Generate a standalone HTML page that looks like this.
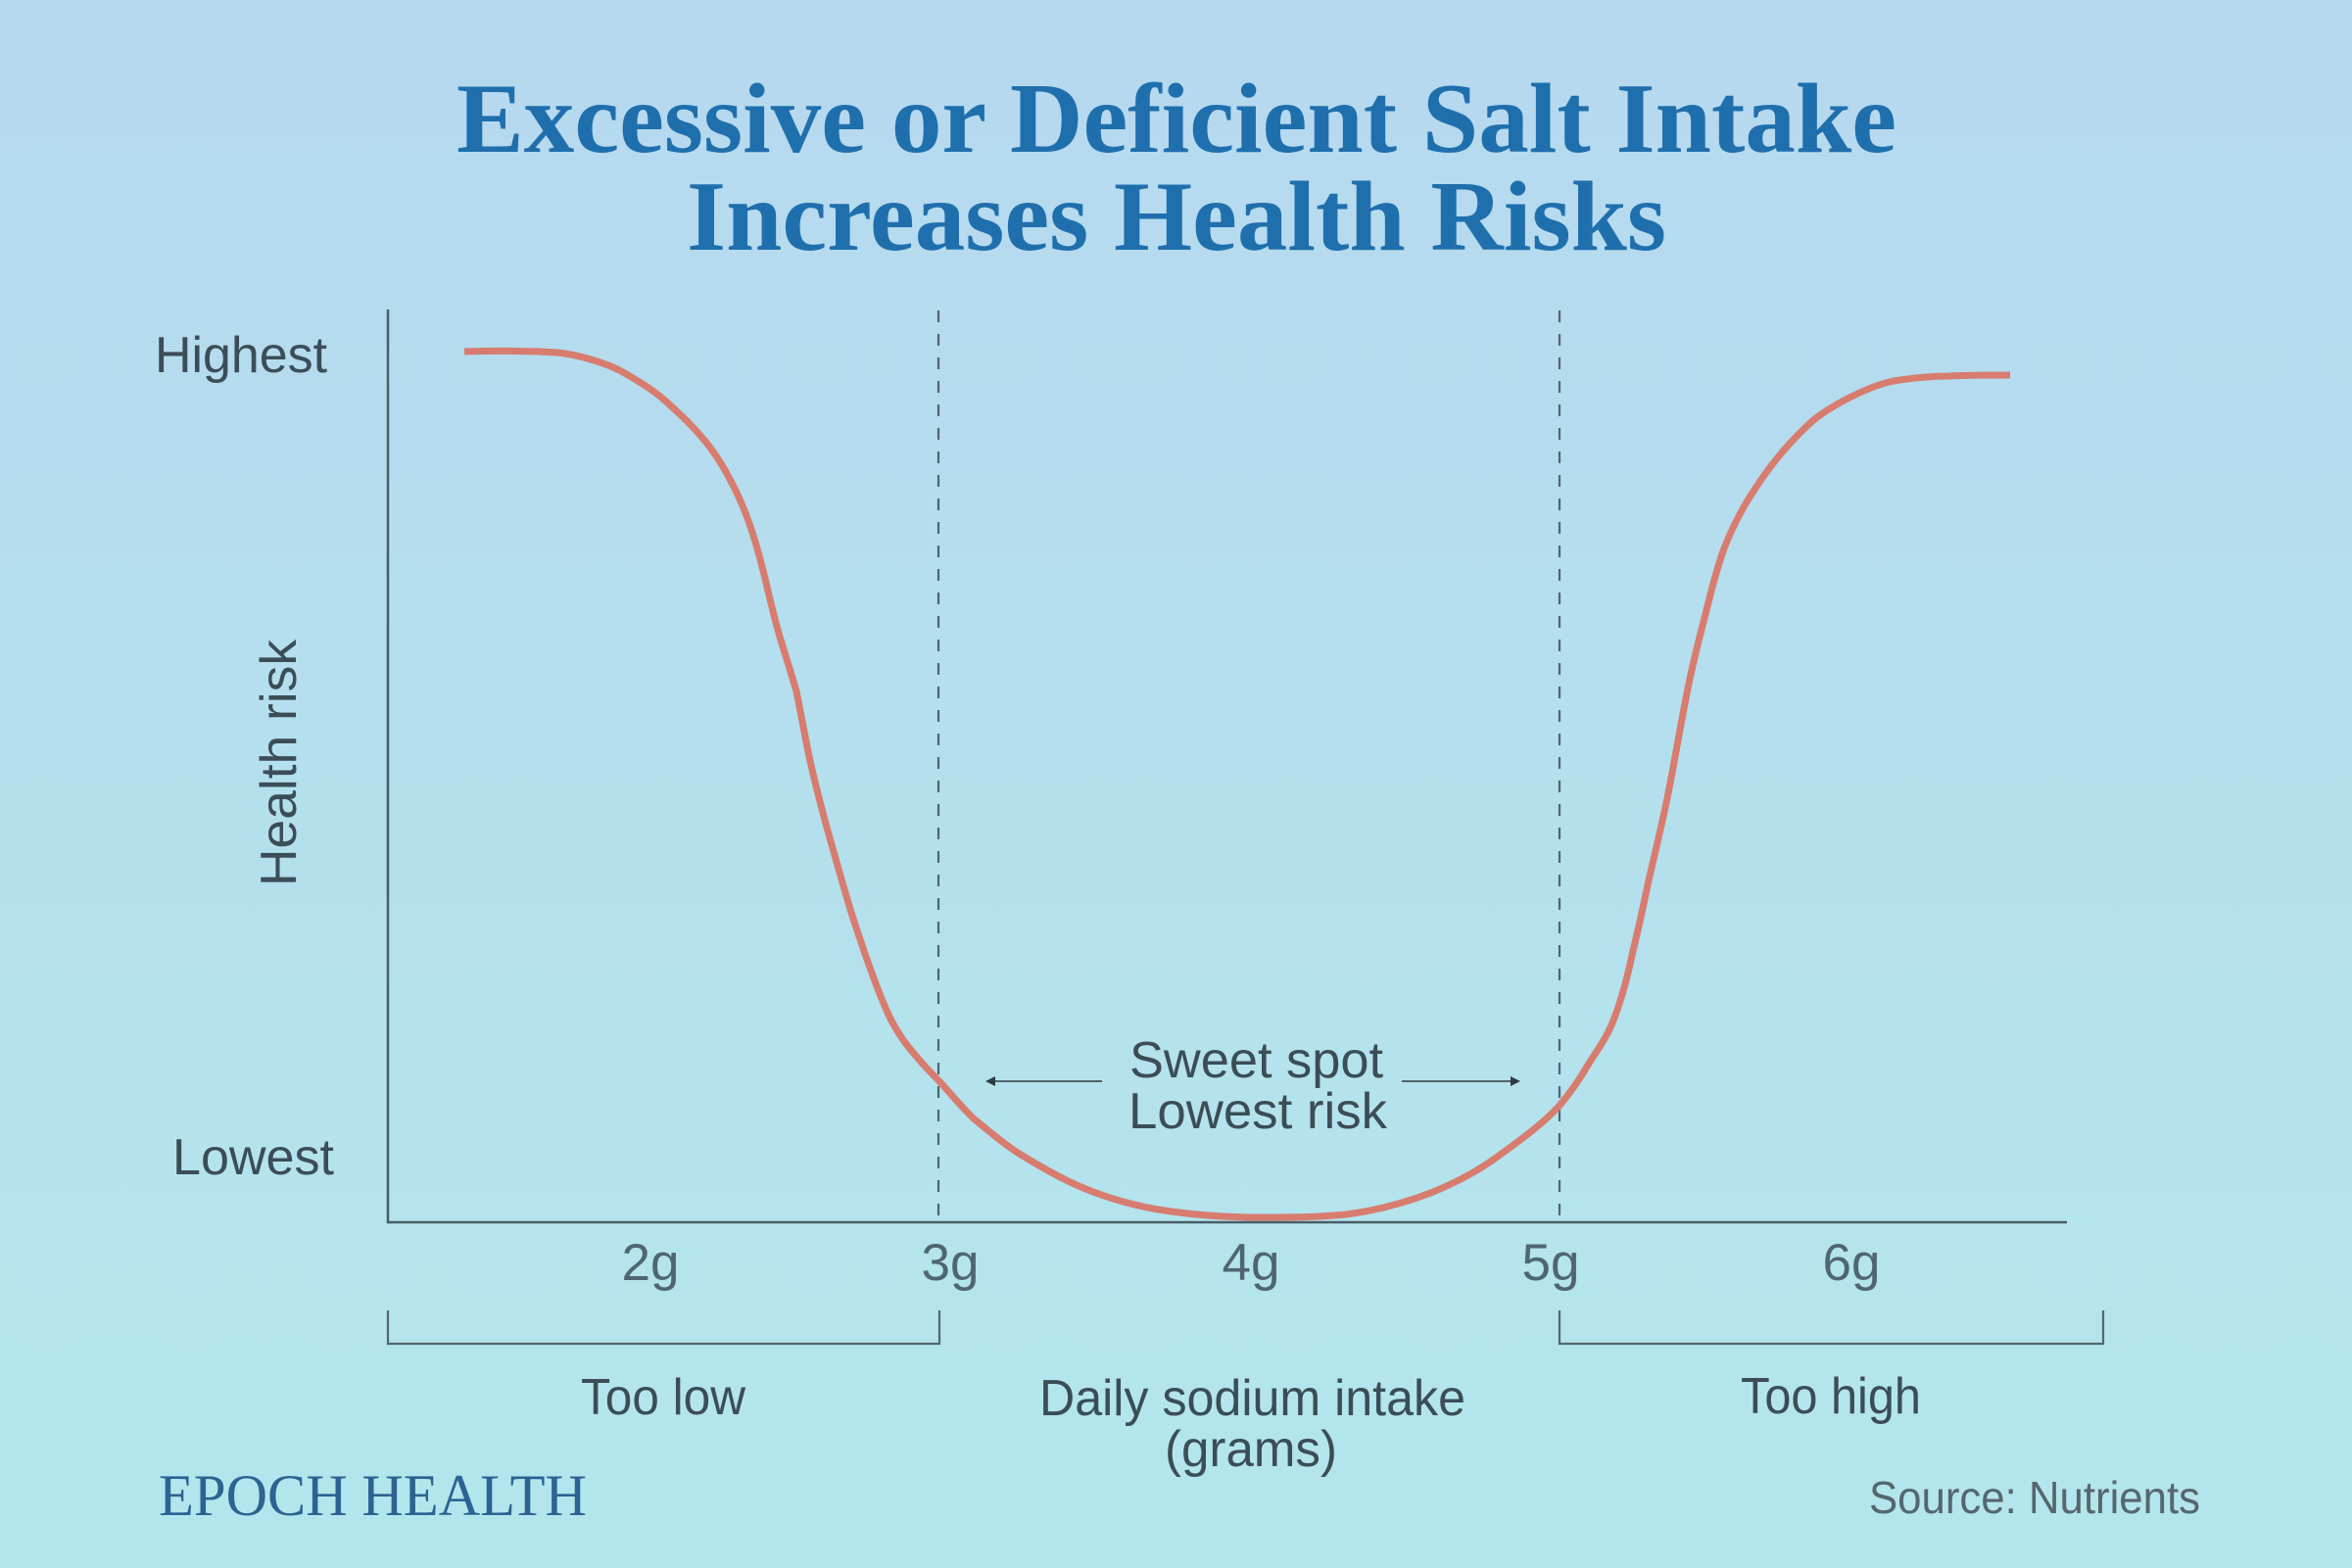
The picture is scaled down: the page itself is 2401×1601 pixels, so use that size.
<!DOCTYPE html>
<html>
<head>
<meta charset="utf-8">
<style>
  html, body { margin:0; padding:0; }
  body { width:2401px; height:1601px; overflow:hidden; }
  svg { display:block; }
</style>
</head>
<body>
<svg width="2401" height="1601" viewBox="0 0 2401 1601" xmlns="http://www.w3.org/2000/svg">
  <defs>
    <linearGradient id="bg" x1="0" y1="0" x2="0" y2="1">
      <stop offset="0" stop-color="#b6d8ef"/>
      <stop offset="1" stop-color="#b3e7ec"/>
    </linearGradient>
  </defs>
  <rect x="0" y="0" width="2401" height="1601" fill="url(#bg)"/>

  <!-- Title -->
  <g font-family="'Liberation Serif', serif" font-weight="bold" fill="#1f6fad" font-size="102">
    <text x="466" y="155" textLength="1470" lengthAdjust="spacingAndGlyphs">Excessive or Deficient Salt Intake</text>
    <text x="701" y="255" textLength="1000" lengthAdjust="spacingAndGlyphs">Increases Health Risks</text>
  </g>

  <!-- Dashed guide lines -->
  <g stroke="#4f6470" stroke-width="2.2" stroke-dasharray="12 12">
    <line x1="958" y1="317" x2="958" y2="1248"/>
    <line x1="1592" y1="317" x2="1592" y2="1248"/>
  </g>

  <!-- Axes -->
  <g stroke="#4a5d68" stroke-width="2.5" fill="none">
    <line x1="396" y1="316" x2="396" y2="1249"/>
    <line x1="395" y1="1248" x2="2110" y2="1248"/>
  </g>

  <!-- Curve -->
  <path fill="none" stroke="#d77c6f" stroke-width="7" stroke-linejoin="round" stroke-linecap="butt"
    d="M474,359 C500,358 540,358 569,360 C590,362 620,371 636,380 C655,391 668,399 680,410 C700,428 712,440 725,457 C734,469 741,481 747,493 C757,512 764,530 770,550 C775,566 779,582 783,599 C787,616 791,633 796,650 C802,670 808,688 813,706 C818,730 822,754 827,777 C834,808 842,838 850,866 C859,897 867,928 877,956 C886,983 896,1012 907,1036 C916,1055 925,1067 935,1078 C942,1087 950,1095 958,1103 C970,1116 982,1131 995,1143 C1010,1155 1023,1167 1039,1177 C1060,1190 1082,1203 1106,1213 C1135,1225 1165,1233 1196,1237 C1225,1241 1255,1243 1285,1243 C1315,1243 1344,1243 1374,1240 C1405,1236 1435,1228 1463,1217 C1487,1207 1510,1195 1530,1180 C1552,1164 1573,1149 1591,1130 C1602,1117 1612,1103 1620,1089 C1630,1073 1640,1060 1647,1042 C1656,1019 1662,995 1667,971 C1673,947 1678,923 1683,899 C1690,869 1697,840 1703,810 C1710,774 1716,738 1723,703 C1728,678 1734,654 1740,631 C1746,607 1752,582 1760,560 C1769,537 1780,516 1793,497 C1808,474 1828,450 1850,430 C1862,420 1876,412 1890,405 C1904,398 1918,392 1933,389 C1952,386 1971,384 1990,384 C2011,383 2031,383 2052,383"/>

  <!-- Y labels -->
  <g font-family="'Liberation Sans', sans-serif" fill="#3b4d57" font-size="52">
    <text x="158" y="380" textLength="176" lengthAdjust="spacingAndGlyphs">Highest</text>
    <text x="176" y="1199" textLength="165" lengthAdjust="spacingAndGlyphs">Lowest</text>
    <text transform="translate(302,779) rotate(-90)" text-anchor="middle" textLength="252" lengthAdjust="spacingAndGlyphs">Health risk</text>
  </g>

  <!-- X tick labels -->
  <g font-family="'Liberation Sans', sans-serif" fill="#4f6672" font-size="53" text-anchor="middle">
    <text x="664" y="1307">2g</text>
    <text x="970" y="1307">3g</text>
    <text x="1277" y="1307">4g</text>
    <text x="1583" y="1307">5g</text>
    <text x="1890" y="1307">6g</text>
  </g>

  <!-- Brackets -->
  <g stroke="#55666f" stroke-width="2.2" fill="none">
    <polyline points="396,1338 396,1372 959,1372 959,1338"/>
    <polyline points="1592,1338 1592,1372 2147,1372 2147,1338"/>
  </g>

  <!-- Sweet spot annotation -->
  <g stroke="#2e3a40" stroke-width="1.6" fill="none">
    <line x1="1010" y1="1104" x2="1125" y2="1104"/>
    <line x1="1431" y1="1104" x2="1548" y2="1104"/>
  </g>
  <g fill="#2e3a40">
    <polygon points="1006,1104 1016,1099 1016,1109"/>
    <polygon points="1552,1104 1542,1099 1542,1109"/>
  </g>
  <g font-family="'Liberation Sans', sans-serif" fill="#3b4d57" font-size="52">
    <text x="1153" y="1100" textLength="259" lengthAdjust="spacingAndGlyphs">Sweet spot</text>
    <text x="1152" y="1152" textLength="264" lengthAdjust="spacingAndGlyphs">Lowest risk</text>
  </g>

  <!-- Category labels -->
  <g font-family="'Liberation Sans', sans-serif" fill="#3b4d57" font-size="52">
    <text x="593" y="1444" textLength="168" lengthAdjust="spacingAndGlyphs">Too low</text>
    <text x="1061" y="1445" textLength="435" lengthAdjust="spacingAndGlyphs">Daily sodium intake</text>
    <text x="1189" y="1497" textLength="176" lengthAdjust="spacingAndGlyphs">(grams)</text>
    <text x="1777" y="1443" textLength="184" lengthAdjust="spacingAndGlyphs">Too high</text>
  </g>

  <!-- Footer -->
  <text x="162" y="1547" font-family="'Liberation Serif', serif" font-size="60" fill="#2c6393" textLength="437" lengthAdjust="spacingAndGlyphs">EPOCH HEALTH</text>
  <text x="1908" y="1545" font-family="'Liberation Sans', sans-serif" font-size="46" fill="#56666f" textLength="338" lengthAdjust="spacingAndGlyphs">Source:  Nutrients</text>
</svg>
</body>
</html>
